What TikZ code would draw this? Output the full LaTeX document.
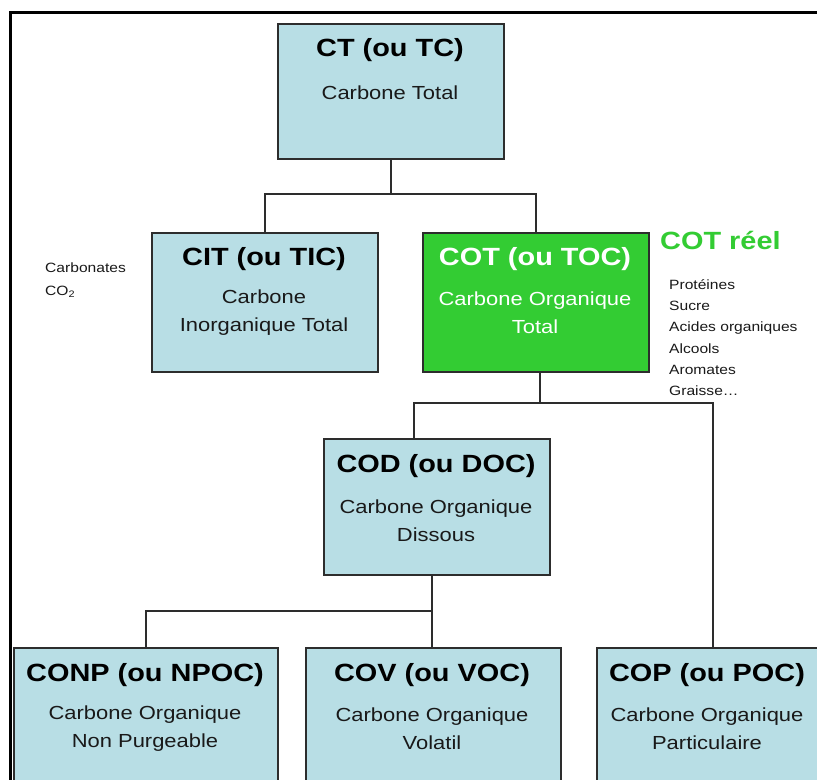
\documentclass[tikz,border=0pt]{standalone}
\usepackage{fontspec}
\setmainfont{Liberation Sans}[FakeStretch=1.16]
\definecolor{boxblue}{RGB}{184,222,229}
\definecolor{cotgreen}{RGB}{51,204,51}
\definecolor{edgegray}{RGB}{45,45,45}
\definecolor{txt}{RGB}{25,25,25}
\begin{document}
\begin{tikzpicture}[x=1bp,y=-1bp,
  box/.style={draw=edgegray, line width=1.8bp, fill=boxblue, anchor=north west, inner sep=0pt, minimum height=137bp},
  greenbox/.style={box, fill=cotgreen},
  title/.style={font=\fontsize{25}{30}\selectfont\bfseries, text=black, inner sep=0pt},
  sub/.style={font=\fontsize{19}{28}\selectfont, text=txt, align=center, inner sep=0pt},
  note/.style={font=\fontsize{13.5}{21.4}\selectfont, text=txt, align=left, inner sep=0pt, anchor=north west},
  conn/.style={draw=edgegray, line width=1.8bp}]
\useasboundingbox (0,0) rectangle (817,780);
\clip (0,0) rectangle (817,780);
\fill[white] (0,0) rectangle (817,780);
% frame
\draw[line width=3bp, black] (10,790) -- (10,12.5) -- (830,12.5);
% boxes
\node[box, minimum width=226bp, minimum height=135bp] (ct) at (277,23) {};
\node[box, minimum width=226bp, minimum height=139bp] (cit) at (151,232) {};
\node[greenbox, minimum width=226bp, minimum height=139bp] (cot) at (422,232) {};
\node[box, minimum width=226bp, minimum height=136bp] (cod) at (323,438) {};
\node[box, minimum width=264bp, minimum height=180bp] (conp) at (13,647) {};
\node[box, minimum width=255bp, minimum height=180bp] (cov) at (305,647) {};
\node[box, minimum width=232bp, minimum height=180bp] (cop) at (596,647) {};
% texts
\node[title] (ctT) at (390,50) {CT (ou TC)};
\node[sub] (ctS) at (390,93) {Carbone Total};
\node[title] (citT) at (264,259) {CIT (ou TIC)};
\node[sub] (citS) at (264,313) {Carbone\\Inorganique Total};
\node[title, text=white] (cotT) at (535,259) {COT (ou TOC)};
\node[sub, text=white] (cotS) at (535,313) {Carbone Organique\\Total};
\node[title] (codT) at (436,466) {COD (ou DOC)};
\node[sub] (codS) at (436,521) {Carbone Organique\\Dissous};
\node[title] (conpT) at (145,675) {CONP (ou NPOC)};
\node[sub] (conpS) at (145,729) {Carbone Organique\\Non Purgeable};
\node[title] (covT) at (432,675) {COV (ou VOC)};
\node[sub] (covS) at (432,729) {Carbone Organique\\Volatil};
\node[title] (copT) at (707,675) {COP (ou POC)};
\node[sub] (copS) at (707,729) {Carbone Organique\\Particulaire};
% side notes
\node[title, text=cotgreen, anchor=west] (reel) at (660,240) {COT réel};
\node[note] (list) at (669,279) {Protéines\\Sucre\\Acides organiques\\Alcools\\Aromates\\Graisse\dots};
\node[note] (carb) at (45,263) {Carbonates\\[1.5bp]CO\textsubscript{2}};
% connectors
\coordinate (j1) at (391,194);
\coordinate (j2) at (540,403);
\coordinate (j3) at (432,611);
\draw[conn] (ct.south -| j1) -- (j1);
\draw[conn] (j1) -| (cit.north);
\draw[conn] (j1) -| (cot.north);
\draw[conn] (cot.south -| j2) -- (j2);
\draw[conn] (j2) -| ([xshift=-23bp]cod.north);
\draw[conn] (j2) -| (cop.north);
\draw[conn] (cod.south -| j3) -- (cov.north -| j3);
\draw[conn] (j3) -| (conp.north);
\end{tikzpicture}
\end{document}
